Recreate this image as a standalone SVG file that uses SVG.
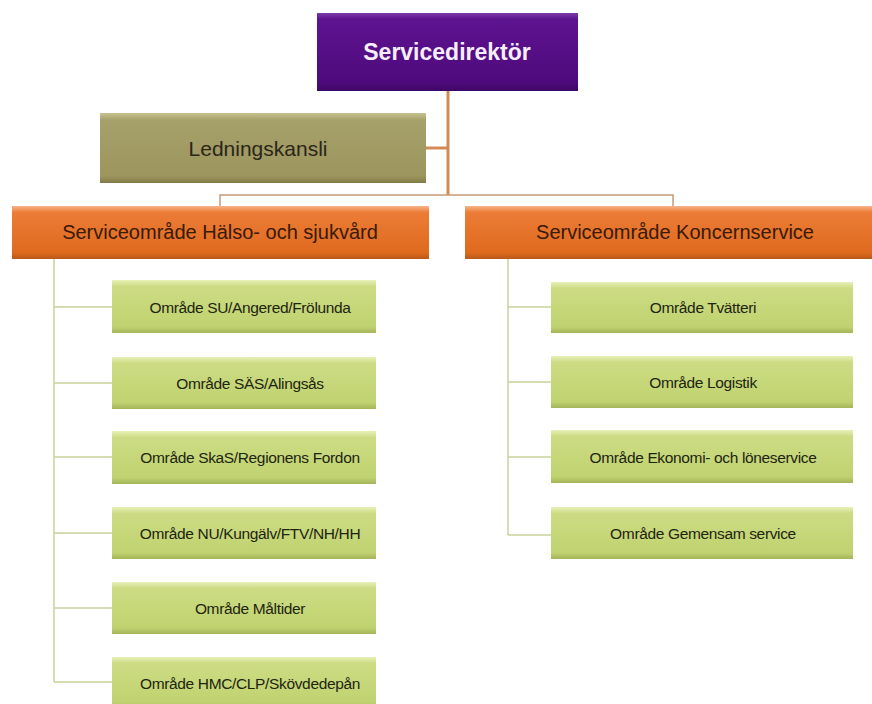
<svg xmlns="http://www.w3.org/2000/svg" width="872" height="704" viewBox="0 0 872 704">
<defs>
<linearGradient id="gPurple" x1="0" y1="0" x2="0" y2="1">
<stop offset="0" stop-color="#7a3aa8"/><stop offset="0.08" stop-color="#5e1390"/><stop offset="0.9" stop-color="#4e0a7c"/><stop offset="1" stop-color="#3e0664"/>
</linearGradient>
<linearGradient id="gOlive" x1="0" y1="0" x2="0" y2="1">
<stop offset="0" stop-color="#c8c290"/><stop offset="0.1" stop-color="#a6a06a"/><stop offset="0.9" stop-color="#9c955e"/><stop offset="1" stop-color="#837c48"/>
</linearGradient>
<linearGradient id="gOrange" x1="0" y1="0" x2="0" y2="1">
<stop offset="0" stop-color="#f6b58a"/><stop offset="0.12" stop-color="#ec7c36"/><stop offset="0.88" stop-color="#de6a1e"/><stop offset="1" stop-color="#b85818"/>
</linearGradient>
<linearGradient id="gGreen" x1="0" y1="0" x2="0" y2="1">
<stop offset="0" stop-color="#e8f0b8"/><stop offset="0.12" stop-color="#cddc84"/><stop offset="0.88" stop-color="#c0d270"/><stop offset="1" stop-color="#a4b45a"/>
</linearGradient>
</defs>
<style>
text{font-family:"Liberation Sans",Arial,sans-serif;text-anchor:middle;dominant-baseline:central}
.purple{fill:url(#gPurple)}
.olive{fill:url(#gOlive)}
.orange{fill:url(#gOrange)}
.green{fill:url(#gGreen)}
.tTop{fill:#f6eefc;font-size:23px;font-weight:bold}
.tOlive{fill:#2a2618;font-size:21px}
.tOrange{fill:#3a1a08;font-size:20px}
.tGreen{fill:#1e2410;font-size:15.5px;letter-spacing:-0.35px}
.cTop{stroke:#d38a52;stroke-width:3;fill:none}
.cThin{stroke:#c79a74;stroke-width:1.5;fill:none}
.cGreen{stroke:#c6d29a;stroke-width:1.5;fill:none}
</style>
<rect width="872" height="704" fill="#ffffff"/>
<g id="connectors">
<path class="cTop" d="M448 91 V195"/>
<path class="cTop" d="M426 148 H448"/>
<path class="cThin" d="M220 206 V195 H673 V206"/>
<path class="cGreen" d="M54 259 V682"/>
<path class="cGreen" d="M54 307 H112 M54 383 H112 M54 457 H112 M54 533 H112 M54 608 H112 M54 682 H112"/>
<path class="cGreen" d="M508 259 V535"/>
<path class="cGreen" d="M508 307 H551 M508 382 H551 M508 457 H551 M508 535 H551"/>
</g>
<g id="servicedirektor">
<rect class="purple" x="317" y="13" width="261" height="78"/>
<text class="tTop" x="447" y="52">Servicedirektör</text>
</g>
<g id="ledningskansli">
<rect class="olive" x="100" y="113" width="326" height="70"/>
<text class="tOlive" x="258" y="148">Ledningskansli</text>
</g>
<g id="so-halso">
<rect class="orange" x="12" y="206" width="417" height="53"/>
<text class="tOrange" x="220" y="232">Serviceområde Hälso- och sjukvård</text>
</g>
<g id="so-koncern">
<rect class="orange" x="465" y="206" width="420" height="53"/>
<text class="tOrange" x="675" y="232">Serviceområde Koncernservice</text>
</g>
<g id="su">
<rect class="green" x="112" y="280" width="264" height="53"/>
<text class="tGreen" x="250" y="307">Område SU/Angered/Frölunda</text>
</g>
<g id="sas">
<rect class="green" x="112" y="357" width="264" height="52"/>
<text class="tGreen" x="250" y="383">Område SÄS/Alingsås</text>
</g>
<g id="skas">
<rect class="green" x="112" y="431" width="264" height="53"/>
<text class="tGreen" x="250" y="457">Område SkaS/Regionens Fordon</text>
</g>
<g id="nu">
<rect class="green" x="112" y="507" width="264" height="52"/>
<text class="tGreen" x="250" y="533">Område NU/Kungälv/FTV/NH/HH</text>
</g>
<g id="maltider">
<rect class="green" x="112" y="582" width="264" height="52"/>
<text class="tGreen" x="250" y="608">Område Måltider</text>
</g>
<g id="hmc">
<rect class="green" x="112" y="657" width="264" height="52"/>
<text class="tGreen" x="250" y="683">Område HMC/CLP/Skövdedepån</text>
</g>
<g id="tvatteri">
<rect class="green" x="551" y="282" width="302" height="51"/>
<text class="tGreen" x="703" y="307">Område Tvätteri</text>
</g>
<g id="logistik">
<rect class="green" x="551" y="356" width="302" height="52"/>
<text class="tGreen" x="703" y="382">Område Logistik</text>
</g>
<g id="ekonomi">
<rect class="green" x="551" y="430" width="302" height="53"/>
<text class="tGreen" x="703" y="457">Område Ekonomi- och löneservice</text>
</g>
<g id="gemensam">
<rect class="green" x="551" y="507" width="302" height="52"/>
<text class="tGreen" x="703" y="533">Område Gemensam service</text>
</g>
</svg>
